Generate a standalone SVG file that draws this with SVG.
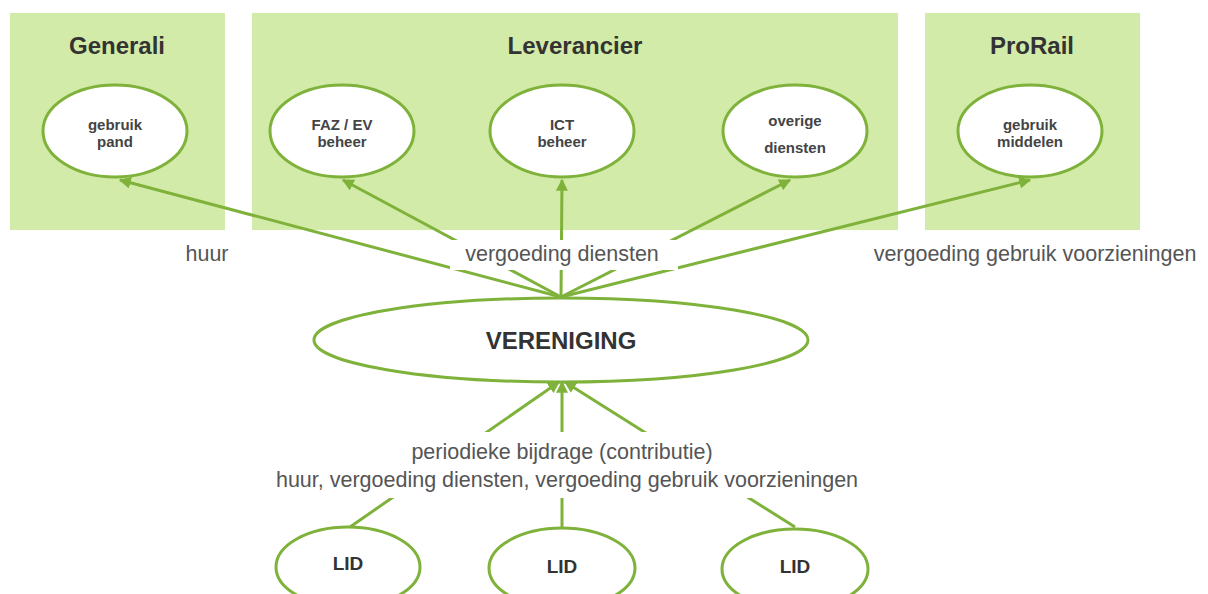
<svg xmlns="http://www.w3.org/2000/svg" width="1208" height="594" viewBox="0 0 1208 594">
<style>
.box{fill:#d3eba8}
.ell{fill:#fff;stroke:#7fb23b;stroke-width:3}
.title{font-family:"Liberation Sans",Arial,sans-serif;font-weight:bold;font-size:24px;fill:#333;text-anchor:middle}
.small{font-family:"Liberation Sans",Arial,sans-serif;font-weight:bold;font-size:15px;fill:#444;text-anchor:middle}
.lbl{font-family:"Liberation Sans",Arial,sans-serif;font-size:21.5px;fill:#555;text-anchor:middle}
.big{font-family:"Liberation Sans",Arial,sans-serif;font-weight:bold;font-size:24px;fill:#333;text-anchor:middle}
.lid{font-family:"Liberation Sans",Arial,sans-serif;font-weight:bold;font-size:19px;fill:#333;text-anchor:middle}
.con{stroke:#7fb23b;stroke-width:3;fill:none;marker-end:url(#ah)}
</style>
<defs>
<marker id="ah" viewBox="0 0 10 10" refX="9" refY="5" markerWidth="4" markerHeight="4" orient="auto" markerUnits="strokeWidth">
<path d="M0,0 L10,5 L0,10 z" fill="#7fb23b"/>
</marker>
</defs>
<rect width="1208" height="594" fill="#fff"/>
<g id="generali"><rect class="box" x="10" y="13" width="215" height="217"/><text class="title" x="117" y="54">Generali</text></g>
<g id="leverancier"><rect class="box" x="252" y="13" width="646" height="217"/><text class="title" x="575" y="54">Leverancier</text></g>
<g id="prorail"><rect class="box" x="925" y="13" width="215" height="217"/><text class="title" x="1032" y="54">ProRail</text></g>
<g id="connectors">
<line class="con" x1="561" y1="297" x2="120" y2="180"/>
<line class="con" x1="561" y1="297" x2="343" y2="180"/>
<line class="con" x1="561" y1="297" x2="562" y2="180"/>
<line class="con" x1="561" y1="297" x2="790" y2="180"/>
<line class="con" x1="561" y1="297" x2="1030" y2="180"/>
<line class="con" x1="350" y1="527" x2="559" y2="382"/>
<line class="con" x1="562" y1="527" x2="562" y2="382"/>
<line class="con" x1="795" y1="527" x2="565" y2="382"/>
</g>
<g id="label-diensten"><rect x="450" y="240" width="228" height="30" fill="#fff"/><text class="lbl" x="562" y="261">vergoeding diensten</text></g>
<g id="label-huur"><text class="lbl" x="207" y="261">huur</text></g>
<g id="label-voorz"><text class="lbl" x="1035" y="261">vergoeding gebruik voorzieningen</text></g>
<g id="label-bijdrage"><rect x="266" y="432" width="604" height="66" fill="#fff"/><text class="lbl" x="562" y="459">periodieke bijdrage (contributie)</text><text class="lbl" x="567" y="487">huur, vergoeding diensten, vergoeding gebruik voorzieningen</text></g>
<g id="pand"><ellipse class="ell" cx="115" cy="131" rx="72" ry="46"/><text class="small" x="115" y="130">gebruik</text><text class="small" x="115" y="147">pand</text></g>
<g id="faz"><ellipse class="ell" cx="342" cy="131" rx="72" ry="46"/><text class="small" x="342" y="130">FAZ / EV</text><text class="small" x="342" y="147">beheer</text></g>
<g id="ict"><ellipse class="ell" cx="562" cy="131" rx="72" ry="46"/><text class="small" x="562" y="130">ICT</text><text class="small" x="562" y="147">beheer</text></g>
<g id="overige"><ellipse class="ell" cx="795" cy="131" rx="72" ry="46"/><text class="small" x="795" y="126">overige</text><text class="small" x="795" y="153">diensten</text></g>
<g id="middelen"><ellipse class="ell" cx="1030" cy="131" rx="72" ry="46"/><text class="small" x="1030" y="130">gebruik</text><text class="small" x="1030" y="147">middelen</text></g>
<g id="vereniging"><ellipse class="ell" cx="561" cy="340" rx="247" ry="42"/><text class="big" x="561" y="349">VERENIGING</text></g>
<g id="lid1"><ellipse class="ell" cx="348" cy="567" rx="72" ry="40"/><text class="lid" x="348" y="570">LID</text></g>
<g id="lid2"><ellipse class="ell" cx="562" cy="568" rx="73" ry="40"/><text class="lid" x="562" y="573">LID</text></g>
<g id="lid3"><ellipse class="ell" cx="795" cy="569" rx="73" ry="40"/><text class="lid" x="795" y="573">LID</text></g>
</svg>
